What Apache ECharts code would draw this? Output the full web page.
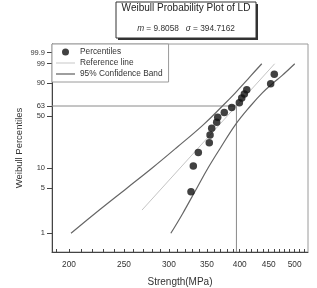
<!DOCTYPE html>
<html><head><meta charset="utf-8">
<script src="https://cdn.jsdelivr.net/npm/echarts@6/dist/echarts.min.js"></script>
<style>html,body{margin:0;padding:0;background:#fff}#c{width:317px;height:288px}</style>
</head><body><div id="c"></div>
<script>
// ---- data ----
const strengthMPa = [328.2, 331.3, 338.1, 353.5, 354.6, 357.0, 364.3, 365.8, 375.7, 387.3, 399.4, 403.3, 407.6, 411.6, 453.6, 460.3];
const percentiles = [4.4, 10.8, 17.0, 23.3, 29.6, 36.2, 42.5, 48.6, 54.8, 61.2, 67.5, 73.8, 78.6, 83.4, 89.4, 95.7];
const refLineMPa = [269, 461];
const refLinePct = [2.3, 99];
const bandPct = [1, 2, 5, 10, 20, 40, 63.2, 80, 90, 95, 99];
const bandLeftMPa = [201.6, 221.7, 252.9, 280.0, 309.8, 345.3, 372.9, 393.0, 407.7, 418.7, 437.5];
const bandRightMPa = [302.4, 317.0, 336.0, 351.5, 370.3, 393.2, 417.8, 438.5, 458.6, 474.9, 500.2];
const shapeM = '9.8058';
const scaleEta = 394.7162;
const etaPct = 63.2;
const xTickLabels = [200, 250, 300, 350, 400, 450, 500];
const xMinorTicks = [190, 200, 210, 220, 230, 240, 250, 260, 270, 280, 290, 300, 310, 320, 330, 340, 350, 360, 370, 380, 390, 400, 410, 420, 430, 440, 450, 460, 470, 480, 490, 500, 510, 520];
const yTickPct = [1, 5, 10, 50, 63.2, 90, 99, 99.9];
const yTickLabels = ['1', '5', '10', '50', '63', '90', '99', '99.9'];

// ---- scales: log10 strength, Weibull ln(-ln(1-p)) ----
const tx = v => Math.log10(v);
const ty = p => Math.log(-Math.log(1 - p / 100));
const xMin = 2.2710, xMax = 2.7225;
const yMin = -5.2765, yMax = 2.2407;

const font = 'Liberation Sans, Arial, sans-serif';
const chart = echarts.init(document.getElementById('c'), null, {renderer: 'canvas'});

const yTickVals = yTickPct.map(ty);
chart.setOption({
  animation: false,
  textStyle: {fontFamily: font},
  grid: {left: 52, right: 9, top: 44, bottom: 36, show: true, borderColor: '#9a9a9a', borderWidth: 1, outerBoundsMode: 'none', containLabel: false},
  legend: {
    data: [
      {name: 'Percentiles', icon: 'circle'},
      {name: 'Reference line', icon: 'path://M0,0H40V2H0Z'},
      {name: '95% Confidence Band', icon: 'path://M0,0H30V2H0Z'}
    ],
    orient: 'vertical', left: 52, top: 44,
    itemWidth: 19, itemHeight: 7, itemGap: 3,
    padding: [4, 6, 4, 4],
    borderColor: '#9a9a9a', borderWidth: 1, backgroundColor: '#fff',
    textStyle: {fontSize: 8.3, color: '#333', fontFamily: font}
  },
  xAxis: {
    type: 'value', min: xMin, max: xMax,
    name: 'Strength(MPa)', nameLocation: 'middle', nameGap: 25, nameMoveOverlap: false,
    nameTextStyle: {fontSize: 10, color: '#333', fontFamily: font},
    axisLine: {show: true, onZero: false, lineStyle: {color: '#444', width: 1}},
    axisTick: {show: true, inside: true, length: 3, customValues: xMinorTicks.map(tx), lineStyle: {color: '#444'}},
    axisLabel: {customValues: xTickLabels.map(tx), fontSize: 8.3, color: '#333', margin: 9,
      formatter: v => String(Math.round(Math.pow(10, v)))},
    splitLine: {show: false}
  },
  yAxis: {
    type: 'value', min: yMin, max: yMax,
    name: 'Weibull Percentiles', nameLocation: 'middle', nameGap: 28, nameMoveOverlap: false,
    nameTextStyle: {fontSize: 9.5, color: '#333', fontFamily: font},
    axisLine: {show: true, onZero: false, lineStyle: {color: '#444', width: 1}},
    axisTick: {show: true, length: 5, customValues: yTickVals, lineStyle: {color: '#444'}},
    axisLabel: {customValues: yTickVals, fontSize: 7.5, color: '#333', margin: 7,
      formatter: v => {
        let best = 0;
        yTickVals.forEach((t, i) => { if (Math.abs(t - v) < Math.abs(yTickVals[best] - v)) best = i; });
        return yTickLabels[best];
      }},
    splitLine: {show: false}
  },
  graphic: [
    {type: 'rect', shape: {x: 118, y: 4, width: 140, height: 36}, style: {fill: '#333'}},
    {type: 'rect', shape: {x: 116, y: 2, width: 140, height: 36}, style: {fill: '#fff', stroke: '#333', lineWidth: 1}},
    {type: 'text', x: 186, y: 8, style: {text: 'Weibull Probability Plot of LD', fontSize: 10, fontFamily: font, fill: '#222', align: 'center', verticalAlign: 'middle'}},
    {type: 'text', x: 186, y: 29, style: {
      text: '{i|m} = ' + shapeM + '   {i|σ} = ' + scaleEta.toFixed(4),
      fontSize: 8.3, fontFamily: font, fill: '#333', align: 'center', verticalAlign: 'middle',
      rich: {i: {fontStyle: 'italic', fontSize: 8.3, fontFamily: font, fill: '#333'}}}}
  ],
  series: [
    {name: 'guide', type: 'line', symbol: 'none', silent: true, z: 1,
     lineStyle: {color: '#8a8a8a', width: 1},
     data: [[xMin, ty(etaPct)], [tx(scaleEta), ty(etaPct)], [tx(scaleEta), yMin]]},
    {name: 'Reference line', type: 'line', symbol: 'none', z: 2,
     lineStyle: {color: '#c4c4c4', width: 1}, itemStyle: {color: '#c4c4c4'},
     data: refLineMPa.map((v, i) => [tx(v), ty(refLinePct[i])])},
    {name: '95% Confidence Band', type: 'line', symbol: 'none', smooth: 0.4, z: 2,
     lineStyle: {color: '#666', width: 1.2}, itemStyle: {color: '#666'},
     data: bandLeftMPa.map((v, i) => [tx(v), ty(bandPct[i])])},
    {name: '95% Confidence Band', type: 'line', symbol: 'none', smooth: 0.4, z: 2,
     lineStyle: {color: '#666', width: 1.2}, itemStyle: {color: '#666'},
     data: bandRightMPa.map((v, i) => [tx(v), ty(bandPct[i])])},
    {name: 'Percentiles', type: 'scatter', symbol: 'circle', symbolSize: 7.5, z: 3,
     itemStyle: {color: '#111'},
     data: strengthMPa.map((v, i) => [tx(v), ty(percentiles[i])])}
  ]
});
</script></body></html>
